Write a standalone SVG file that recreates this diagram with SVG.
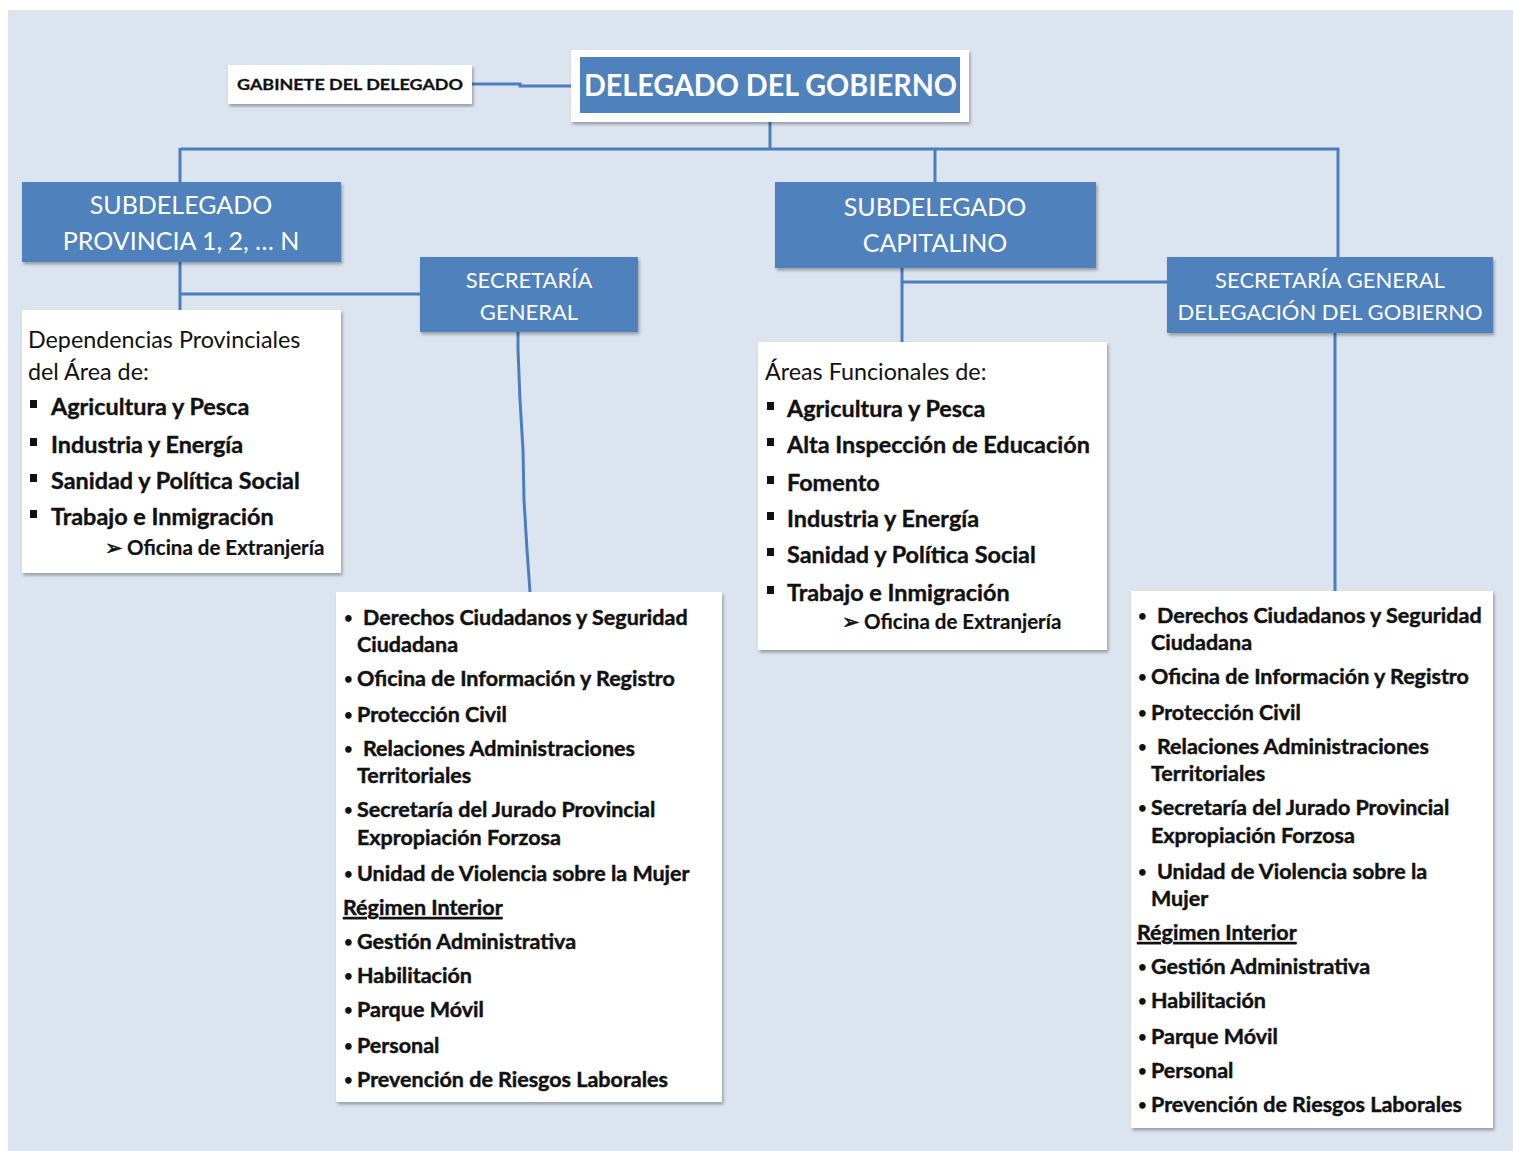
<svg xmlns="http://www.w3.org/2000/svg" width="1513" height="1151" viewBox="0 0 1513 1151">
<style>
.bg{fill:#dce4f0}
.wbox{fill:#ffffff;filter:url(#sh)}
.bbox{fill:#4f81bd;filter:url(#sh)}
.ln{fill:none;stroke:#4a7ebf;stroke-width:3}
.hd{font-family:Lato,"Liberation Sans",sans-serif;fill:#ffffff;text-anchor:middle;font-size:25px}
.hs{font-size:22px}
.big{font-family:Lato,"Liberation Sans",sans-serif;fill:#ffffff;font-weight:bold;font-size:30px}
.gab{font-family:Lato,"Liberation Sans",sans-serif;fill:#111;font-weight:bold;font-size:16px;stroke:#111;stroke-width:0.3}
.reg{font-family:Lato,"Liberation Sans",sans-serif;fill:#111;font-size:23.3px}
.bl{font-family:Lato,"Liberation Sans",sans-serif;fill:#111;font-weight:bold;font-size:23.4px;stroke:#111;stroke-width:0.4}
.of{font-family:Lato,"Liberation Sans",sans-serif;fill:#111;font-weight:bold;font-size:20.5px;stroke:#111;stroke-width:0.2}
.li{font-family:Lato,"Liberation Sans",sans-serif;fill:#111;font-weight:bold;font-size:21.5px;stroke:#111;stroke-width:0.45}
.bu{font-size:15px;stroke-width:0}
.ar{font-family:"DejaVu Sans",sans-serif;font-size:21px;stroke-width:0.6}
.sq{fill:#111}
</style>
<defs>
<filter id="sh" x="-5%" y="-5%" width="110%" height="115%">
<feDropShadow dx="1.5" dy="2.5" stdDeviation="1.5" flood-color="#000" flood-opacity="0.3"/>
</filter>
</defs>
<rect x="8" y="10" width="1505" height="1141" class="bg"/>

<g id="connectors">
<polyline class="ln" points="472,84 520,84 520,86 578,86"/>
<line class="ln" x1="770" y1="122" x2="770" y2="149"/>
<line class="ln" x1="180" y1="149" x2="1339" y2="149"/>
<line class="ln" x1="180" y1="148" x2="180" y2="182"/>
<line class="ln" x1="935" y1="149" x2="935" y2="182"/>
<line class="ln" x1="1338" y1="148" x2="1338" y2="257"/>
<line class="ln" x1="180" y1="262" x2="180" y2="310"/>
<line class="ln" x1="180" y1="294" x2="420" y2="294"/>
<polyline class="ln" points="518,332 518,350 520,400 523,450 524,500 527,550 530,592"/>
<line class="ln" x1="902" y1="268" x2="902" y2="342"/>
<line class="ln" x1="902" y1="282" x2="1167" y2="282"/>
<line class="ln" x1="1335" y1="333" x2="1335" y2="592"/>
</g>

<g id="gabinete">
<rect class="wbox" x="228" y="65" width="244" height="39"/>
<text class="gab" x="237" y="90" textLength="226" lengthAdjust="spacingAndGlyphs">GABINETE DEL DELEGADO</text>
</g>

<g id="delegado">
<rect class="wbox" x="571" y="50" width="398" height="72"/>
<rect x="580" y="57" width="380" height="56" fill="#4f81bd"/>
<text class="big" x="584" y="96" textLength="373" lengthAdjust="spacingAndGlyphs">DELEGADO DEL GOBIERNO</text>
</g>

<g id="subdelegado-provincia">
<rect class="bbox" x="22" y="182" width="319" height="80"/>
<text class="hd" x="181" y="214">SUBDELEGADO</text>
<text class="hd" x="181" y="250">PROVINCIA 1, 2, … N</text>
</g>

<g id="secretaria-general">
<rect class="bbox" x="420" y="257" width="218" height="75"/>
<text class="hd hs" x="529" y="288">SECRETARÍA</text>
<text class="hd hs" x="529" y="320">GENERAL</text>
</g>

<g id="subdelegado-capitalino">
<rect class="bbox" x="775" y="182" width="321" height="86"/>
<text class="hd" x="935" y="216">SUBDELEGADO</text>
<text class="hd" x="935" y="252">CAPITALINO</text>
</g>

<g id="secretaria-general-delegacion">
<rect class="bbox" x="1167" y="257" width="326" height="76"/>
<text class="hd hs" x="1330" y="288">SECRETARÍA GENERAL</text>
<text class="hd hs" x="1330" y="320">DELEGACIÓN DEL GOBIERNO</text>
</g>

<g id="dependencias-provinciales">
<rect class="wbox" x="22" y="310" width="319" height="263"/>
<text class="reg" x="28" y="348">Dependencias Provinciales</text>
<text class="reg" x="28" y="380">del Área de:</text>
<rect class="sq" x="30" y="400" width="7" height="8"/>
<text class="bl" x="51" y="415">Agricultura y Pesca</text>
<rect class="sq" x="30" y="438" width="7" height="8"/>
<text class="bl" x="51" y="453">Industria y Energía</text>
<rect class="sq" x="30" y="474" width="7" height="8"/>
<text class="bl" x="51" y="489">Sanidad y Política Social</text>
<rect class="sq" x="30" y="510" width="7" height="8"/>
<text class="bl" x="51" y="525">Trabajo e Inmigración</text>
<text class="of" x="105" y="555"><tspan class="ar">➢</tspan><tspan x="127">Oficina de Extranjería</tspan></text>
</g>

<g id="areas-funcionales">
<rect class="wbox" x="758" y="342" width="349" height="308"/>
<text class="reg" x="765" y="380">Áreas Funcionales de:</text>
<rect class="sq" x="767" y="402" width="7" height="8"/>
<text class="bl" x="787" y="417">Agricultura y Pesca</text>
<rect class="sq" x="767" y="438" width="7" height="8"/>
<text class="bl" x="787" y="453">Alta Inspección de Educación</text>
<rect class="sq" x="767" y="476" width="7" height="8"/>
<text class="bl" x="787" y="491">Fomento</text>
<rect class="sq" x="767" y="512" width="7" height="8"/>
<text class="bl" x="787" y="527">Industria y Energía</text>
<rect class="sq" x="767" y="548" width="7" height="8"/>
<text class="bl" x="787" y="563">Sanidad y Política Social</text>
<rect class="sq" x="767" y="586" width="7" height="8"/>
<text class="bl" x="787" y="601">Trabajo e Inmigración</text>
<text class="of" x="842" y="629"><tspan class="ar">➢</tspan><tspan x="864">Oficina de Extranjería</tspan></text>
</g>

<g id="servicios-secretaria-general">
<rect class="wbox" x="336" y="592" width="386" height="510"/>
<text class="li" x="344" y="623"><tspan class="bu">•</tspan><tspan x="363" y="625">Derechos Ciudadanos y Seguridad</tspan></text>
<text class="li" x="357" y="652">Ciudadana</text>
<text class="li" x="344" y="684"><tspan class="bu">•</tspan><tspan x="357" y="686">Oficina de Información y Registro</tspan></text>
<text class="li" x="344" y="720"><tspan class="bu">•</tspan><tspan x="357" y="722">Protección Civil</tspan></text>
<text class="li" x="344" y="754"><tspan class="bu">•</tspan><tspan x="363" y="756">Relaciones Administraciones</tspan></text>
<text class="li" x="357" y="783">Territoriales</text>
<text class="li" x="344" y="815"><tspan class="bu">•</tspan><tspan x="357" y="817">Secretaría del Jurado Provincial</tspan></text>
<text class="li" x="357" y="845">Expropiación Forzosa</text>
<text class="li" x="344" y="879"><tspan class="bu">•</tspan><tspan x="357" y="881">Unidad de Violencia sobre la Mujer</tspan></text>
<text class="li" x="343" y="915" text-decoration="underline">Régimen Interior</text>
<text class="li" x="344" y="947"><tspan class="bu">•</tspan><tspan x="357" y="949">Gestión Administrativa</tspan></text>
<text class="li" x="344" y="981"><tspan class="bu">•</tspan><tspan x="357" y="983">Habilitación</tspan></text>
<text class="li" x="344" y="1015"><tspan class="bu">•</tspan><tspan x="357" y="1017">Parque Móvil</tspan></text>
<text class="li" x="344" y="1051"><tspan class="bu">•</tspan><tspan x="357" y="1053">Personal</tspan></text>
<text class="li" x="344" y="1085"><tspan class="bu">•</tspan><tspan x="357" y="1087">Prevención de Riesgos Laborales</tspan></text>
</g>

<g id="servicios-delegacion">
<rect class="wbox" x="1131" y="591" width="362" height="537"/>
<text class="li" x="1138" y="621"><tspan class="bu">•</tspan><tspan x="1157" y="623">Derechos Ciudadanos y Seguridad</tspan></text>
<text class="li" x="1151" y="650">Ciudadana</text>
<text class="li" x="1138" y="682"><tspan class="bu">•</tspan><tspan x="1151" y="684">Oficina de Información y Registro</tspan></text>
<text class="li" x="1138" y="718"><tspan class="bu">•</tspan><tspan x="1151" y="720">Protección Civil</tspan></text>
<text class="li" x="1138" y="752"><tspan class="bu">•</tspan><tspan x="1157" y="754">Relaciones Administraciones</tspan></text>
<text class="li" x="1151" y="781">Territoriales</text>
<text class="li" x="1138" y="813"><tspan class="bu">•</tspan><tspan x="1151" y="815">Secretaría del Jurado Provincial</tspan></text>
<text class="li" x="1151" y="843">Expropiación Forzosa</text>
<text class="li" x="1138" y="877"><tspan class="bu">•</tspan><tspan x="1157" y="879">Unidad de Violencia sobre la</tspan></text>
<text class="li" x="1151" y="906">Mujer</text>
<text class="li" x="1137" y="940" text-decoration="underline">Régimen Interior</text>
<text class="li" x="1138" y="972"><tspan class="bu">•</tspan><tspan x="1151" y="974">Gestión Administrativa</tspan></text>
<text class="li" x="1138" y="1006"><tspan class="bu">•</tspan><tspan x="1151" y="1008">Habilitación</tspan></text>
<text class="li" x="1138" y="1042"><tspan class="bu">•</tspan><tspan x="1151" y="1044">Parque Móvil</tspan></text>
<text class="li" x="1138" y="1076"><tspan class="bu">•</tspan><tspan x="1151" y="1078">Personal</tspan></text>
<text class="li" x="1138" y="1110"><tspan class="bu">•</tspan><tspan x="1151" y="1112">Prevención de Riesgos Laborales</tspan></text>
</g>
</svg>
